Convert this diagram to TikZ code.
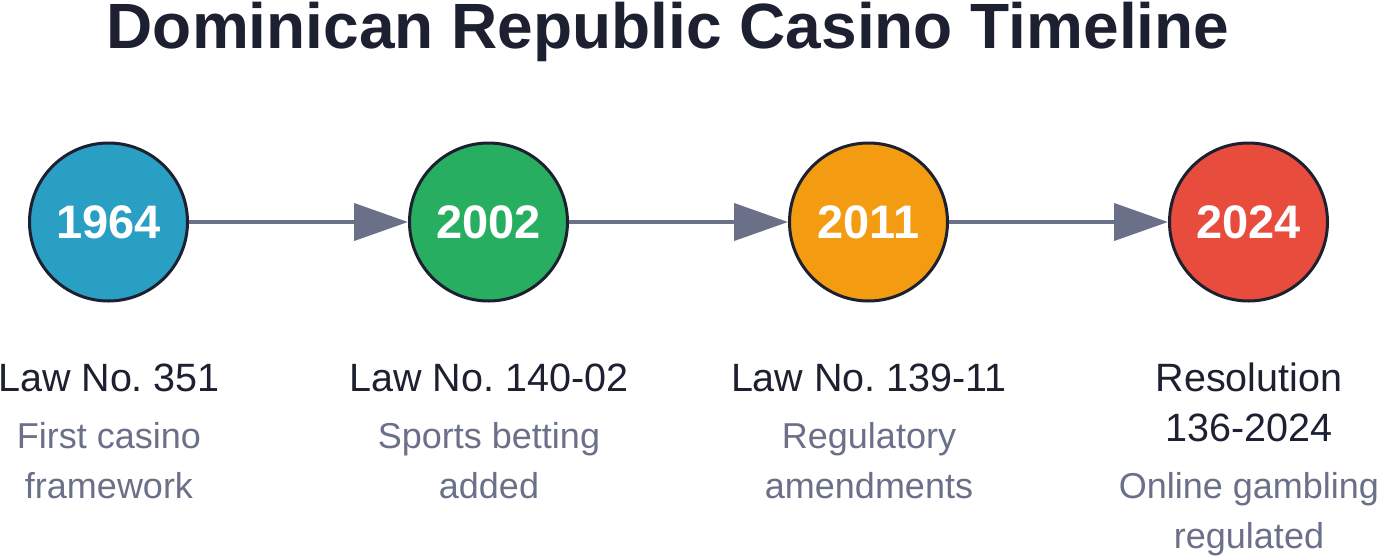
\documentclass[tikz,border=0pt]{standalone}
\usepackage{fontspec}
\setmainfont{Liberation Sans}
\usetikzlibrary{arrows.meta}
\frenchspacing
\definecolor{ink}{HTML}{1C2030}
\definecolor{muted}{HTML}{6B7089}
\definecolor{cblue}{HTML}{2A9FC4}
\definecolor{cgreen}{HTML}{27AE60}
\definecolor{corange}{HTML}{F39C12}
\definecolor{cred}{HTML}{E74C3C}
\tikzset{
  year/.style={circle,draw=ink,line width=3pt,minimum size=158pt,inner sep=0pt,
    text=white,font=\fontsize{47}{50}\selectfont\bfseries},
  law/.style={anchor=base,align=center,inner sep=0pt,text=ink,font=\fontsize{39.5}{50}\selectfont\frenchspacing},
  desc/.style={anchor=base,align=center,inner sep=0pt,text=muted,font=\fontsize{36}{50}\selectfont},
  link/.style={draw=muted,line width=4pt,-{Triangle[length=54pt,width=37pt]}},
}
\begin{document}
\begin{tikzpicture}[x=1pt,y=-1pt]
\useasboundingbox (0,0) rectangle (1377,555);
\node[anchor=base,inner sep=0pt,text=ink,font=\fontsize{64}{70}\selectfont\bfseries] (title) at (668,48) {Dominican Republic Casino Timeline};
\node[year,fill=cblue] (y1) at (108.5,222) {1964};
\node[year,fill=cgreen] (y2) at (488.5,222) {2002};
\node[year,fill=corange] (y3) at (868.5,222) {2011};
\node[year,fill=cred] (y4) at (1248.5,222) {2024};
\draw[link] (y1) -- (y2);
\draw[link] (y2) -- (y3);
\draw[link] (y3) -- (y4);
\node[law] (l1) at (109,391) {Law No. 351};
\node[law] (l2) at (489,391) {Law No. 140-02};
\node[law] (l3) at (869,391) {Law No. 139-11};
\node[law] (l4) at (1249,441) {Resolution\\136-2024};
\node[desc] (d1) at (109,498) {First casino\\framework};
\node[desc] (d2) at (489,498) {Sports betting\\added};
\node[desc] (d3) at (869,498) {Regulatory\\amendments};
\node[desc] (d4) at (1249,548) {Online gambling\\regulated};
\end{tikzpicture}
\end{document}
